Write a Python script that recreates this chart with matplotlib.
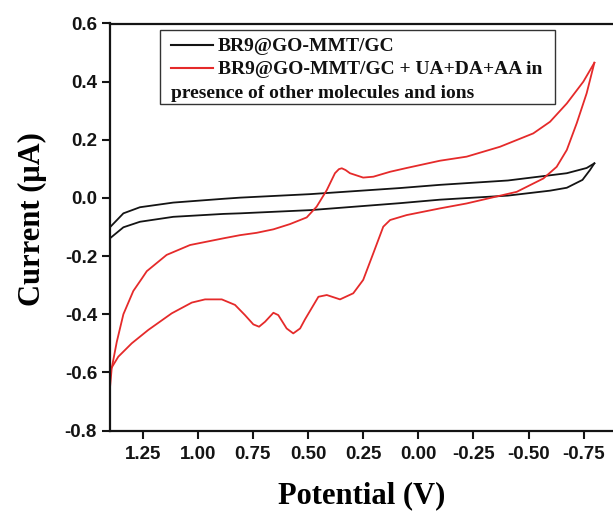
import matplotlib
matplotlib.use("Agg")
import matplotlib.pyplot as plt
from matplotlib.lines import Line2D
from matplotlib.patches import Rectangle

# ---- data ----
black_fwd_v = [1.398, 1.337, 1.262, 1.111, 0.884, 0.808, 0.491, 0.083, -0.098, -0.406, -0.673, -0.763, -0.798]
black_fwd_i = [-0.101, -0.053, -0.032, -0.016, -0.003, 0.001, 0.013, 0.034, 0.045, 0.060, 0.085, 0.103, 0.119]
black_rev_v = [-0.798, -0.778, -0.744, -0.673, -0.597, -0.406, -0.098, 0.083, 0.491, 0.808, 0.884, 1.111, 1.262, 1.337, 1.398]
black_rev_i = [0.119, 0.096, 0.062, 0.035, 0.025, 0.008, -0.006, -0.018, -0.042, -0.053, -0.055, -0.065, -0.082, -0.101, -0.139]

red_fwd_v = [1.398, 1.390, 1.367, 1.337, 1.292, 1.254, 1.231, 1.141, 1.035, 0.884, 0.808, 0.733, 0.657,
             0.582, 0.506, 0.461, 0.415, 0.378, 0.360, 0.347, 0.330, 0.310, 0.250, 0.204, 0.128,
             0.053, -0.098, -0.219, -0.370, -0.521, -0.597, -0.673, -0.748, -0.798]
red_fwd_i = [-0.655, -0.586, -0.495, -0.400, -0.320, -0.278, -0.252, -0.196, -0.162, -0.139, -0.128, -0.120, -0.108,
             -0.090, -0.067, -0.030, 0.027, 0.085, 0.099, 0.102, 0.096, 0.085, 0.070, 0.073, 0.090,
             0.103, 0.128, 0.142, 0.176, 0.222, 0.262, 0.325, 0.400, 0.465]
red_rev_v = [-0.798, -0.763, -0.718, -0.673, -0.627, -0.567, -0.446, -0.219, -0.098, 0.053, 0.128, 0.159,
             0.204, 0.250, 0.295, 0.355, 0.415, 0.453, 0.514, 0.536, 0.567, 0.597, 0.635, 0.657,
             0.695, 0.722, 0.748, 0.786, 0.831, 0.891, 0.967, 1.027, 1.118, 1.224, 1.299, 1.360, 1.392]
red_rev_i = [0.465, 0.360, 0.257, 0.165, 0.107, 0.067, 0.021, -0.019, -0.036, -0.059, -0.076, -0.099,
             -0.190, -0.282, -0.328, -0.349, -0.334, -0.340, -0.418, -0.449, -0.466, -0.449, -0.403, -0.395,
             -0.426, -0.443, -0.435, -0.403, -0.368, -0.349, -0.349, -0.360, -0.397, -0.454, -0.500, -0.546, -0.586]

x_ticks = [1.25, 1.00, 0.75, 0.50, 0.25, 0.00, -0.25, -0.50, -0.75]
y_ticks = [-0.8, -0.6, -0.4, -0.2, 0.0, 0.2, 0.4, 0.6]
label_black = "BR9@GO-MMT/GC"
label_red_1 = "BR9@GO-MMT/GC + UA+DA+AA in"
label_red_2 = "presence of other molecules and ions"

BLACK = "#141414"
RED = "#e52a2a"
W, H = 613, 512

fig = plt.figure(figsize=(W / 100, H / 100), dpi=100)
ax = fig.add_axes([109.5 / W, 1 - 430.5 / H, 1 - 109.5 / W, (430.5 - 23.5) / H])

ax.plot(black_fwd_v, black_fwd_i, color=BLACK, lw=1.3)
ax.plot(black_rev_v, black_rev_i, color=BLACK, lw=1.3)
ax.plot(red_fwd_v, red_fwd_i, color=RED, lw=1.3)
ax.plot(red_rev_v, red_rev_i, color=RED, lw=1.3)

ax.set_xlim(1.4, 1.4 - (W - 109.5) / 220.6)
ax.set_ylim(-0.8, 0.6)
ax.set_xticks(x_ticks)
ax.set_xticklabels([f"{t:.2f}" for t in x_ticks])
ax.set_yticks(y_ticks)
ax.set_yticklabels([f"{t:.1f}" for t in y_ticks])

for s in ["left", "bottom", "top"]:
    ax.spines[s].set_linewidth(1.6)
    ax.spines[s].set_color(BLACK)
ax.spines["right"].set_visible(False)

ax.tick_params(axis="both", direction="out", length=6, width=1.5, colors=BLACK)
ax.tick_params(axis="x", pad=5, top=False)
ax.tick_params(axis="y", pad=3, right=False)
for lab in ax.get_xticklabels() + ax.get_yticklabels():
    lab.set_fontfamily("Liberation Sans")
    lab.set_fontweight("bold")
    lab.set_fontsize(13.5)

ax.set_xlabel("Potential (V)", fontfamily="Liberation Serif", fontweight="bold", fontsize=22)
ax.set_ylabel("Current (\u03bcA)", fontfamily="Liberation Serif", fontweight="bold", fontsize=22)
ax.xaxis.set_label_coords(0.5, -0.125)
ax.xaxis.label.set_va("top")
ax.yaxis.set_label_coords((47 - 109.5) / (W - 109.5), (430.5 - 219) / 407)

# ---- legend drawn as in the reference ----
def fx(px):
    return px / W

def fy(py):
    return 1 - py / H

fig.patches.append(Rectangle((fx(159.5), fy(104.3)), fx(554.5) - fx(159.5), fy(30) - fy(104.3),
                             transform=fig.transFigure, fill=False, edgecolor="#333333", lw=1.0))
fig.lines.append(Line2D([fx(170.7), fx(213.3)], [fy(44.5), fy(44.5)], transform=fig.transFigure,
                        color=BLACK, lw=1.5))
fig.lines.append(Line2D([fx(170.7), fx(213.3)], [fy(67.5), fy(67.5)], transform=fig.transFigure,
                        color=RED, lw=1.5))
tk = dict(fontfamily="Liberation Serif", fontweight="bold", fontsize=14, color="#111111")
fig.text(fx(218), fy(44.5), label_black, ha="left", va="center_baseline", **tk)
fig.text(fx(218), fy(67.5), label_red_1, ha="left", va="center_baseline", **tk)
fig.text(fx(171), fy(91), label_red_2, ha="left", va="center_baseline", **tk)

fig.savefig("out.png", dpi=100)
